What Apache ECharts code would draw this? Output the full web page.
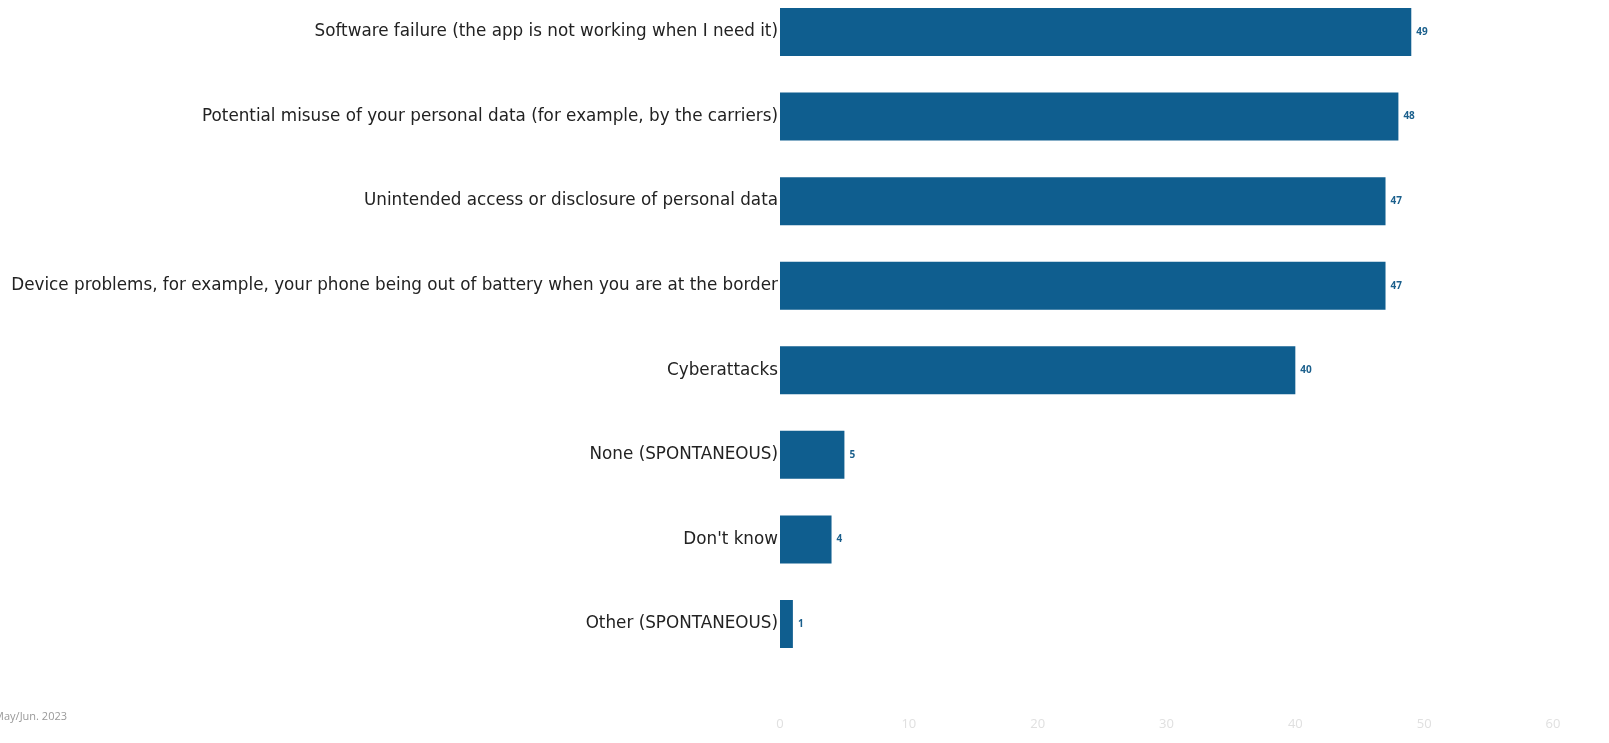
<!DOCTYPE html>
<html><head><meta charset="utf-8">
<script src="https://cdn.jsdelivr.net/npm/echarts@6/dist/echarts.min.js"></script>
<style>html,body{margin:0;padding:0;background:#fff}#c{width:1609px;height:743px}</style>
</head><body><div id="c"></div>
<script>
const categories = [
  "Software failure (the app is not working when I need it)",
  "Potential misuse of your personal data (for example, by the carriers)",
  "Unintended access or disclosure of personal data",
  "Device problems, for example, your phone being out of battery when you are at the border",
  "Cyberattacks",
  "None (SPONTANEOUS)",
  "Don't know",
  "Other (SPONTANEOUS)"
];
const values = [49, 48, 47, 47, 40, 5, 4, 1];
const tickLabels = [0, 10, 20, 30, 40, 50, 60];
const footnote = "Fieldwork: May/Jun. 2023";

const chart = echarts.init(document.getElementById('c'));
chart.setOption({
  animation: false,
  grid: { left: 780, right: 56, top: 32, height: 592, outerBoundsMode: 'none', containLabel: false },
  xAxis: {
    type: 'value', min: 0, max: 60, interval: 10,
    splitLine: { show: false }, axisLine: { show: false }, axisTick: { show: false },
    axisLabel: { color: '#e0e0e0', fontSize: 13, fontFamily: 'Open Sans', margin: 94,
      formatter: v => tickLabels.includes(v) ? String(v) : '' }
  },
  yAxis: {
    type: 'category', inverse: true, data: categories, boundaryGap: false,
    axisLine: { show: false }, axisTick: { show: false },
    axisLabel: { color: '#222', fontSize: 16.8, fontFamily: 'DejaVu Sans', margin: 2 }
  },
  series: [{
    type: 'bar', data: values, barWidth: 48,
    itemStyle: { color: '#0f5e8f' },
    label: { show: true, position: 'right', distance: 5, color: '#1a5f8c', fontSize: 10, fontWeight: 'bold', fontFamily: 'Open Sans' }
  }],
  graphic: [{
    type: 'text', x: 67, y: 711,
    style: { text: footnote, fill: '#999', fontSize: 11, fontFamily: 'Open Sans', align: 'right' }
  }]
});
</script></body></html>
